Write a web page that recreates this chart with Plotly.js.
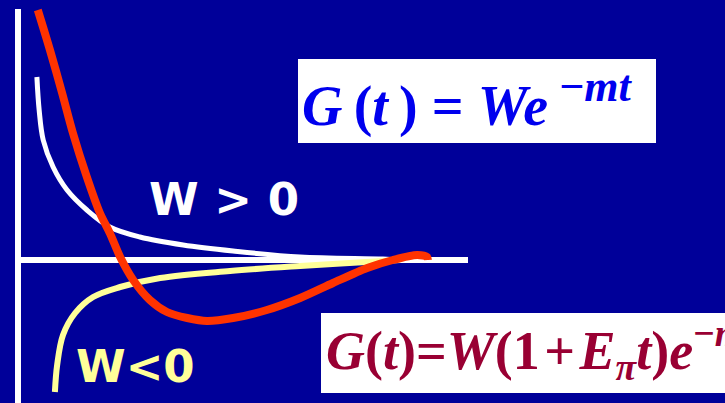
<!DOCTYPE html>
<html>
<head>
<meta charset="utf-8">
<script src="https://cdn.plot.ly/plotly-3.0.1.min.js"></script>
<style>
  html, body { margin: 0; padding: 0; background: #000099; }
  #chart { width: 725px; height: 403px; }
</style>
</head>
<body>
<div id="chart"></div>
<script>
// Propagator G(t) sketches: single exponential for W > 0 and W < 0,
// and the (1 + E_pi t) e^{-mt} form that dips below zero.
const tWhite = [0.42, 0.47, 0.56, 0.78, 1.09, 1.53, 2.04, 2.71, 3.67, 4.78, 6.27, 8.11, 8.49];
const gWhite = [3.66, 3.00, 2.40, 1.86, 1.40, 1.00, 0.66, 0.46, 0.30, 0.18, 0.06, 0.02, 0.00];

const tYellow = [0.82, 0.87, 1.00, 1.27, 1.67, 2.27, 3.16, 4.71, 6.27, 8.11, 8.49];
const gYellow = [-2.64, -2.10, -1.50, -1.06, -0.74, -0.54, -0.36, -0.22, -0.12, -0.02, 0.00];

const tRed = [0.44, 0.71, 0.98, 1.22, 1.53, 1.82, 2.04, 2.27, 2.56, 2.93, 3.31, 3.76, 4.20,
              4.78, 5.53, 6.27, 7.00, 7.76, 8.33, 8.87, 9.09, 9.11];
const gRed = [5.00, 4.20, 3.34, 2.54, 1.66, 0.94, 0.54, 0.06, -0.40, -0.80, -1.04, -1.16, -1.22,
              -1.16, -1.00, -0.76, -0.46, -0.16, 0.00, 0.10, 0.06, 0.00];

// axis extents (t axis and G axis)
const tAxis = [-0.05, 10.0];
const gAxis = [-2.9, 5.02];

const labelPos = 'W > 0';
const labelNeg = 'W<0';
const formulaSimple = '<b><i>G</i>\u2009(<i>t</i>\u2009) = <i>We</i><sup><span style="font-size:44px"> −<i>mt</i></span></sup></b>';
const formulaPion = '<b><i>G</i>(<i>t</i>)=<i>W</i>(1\u200a+\u200a<i>E</i><sub><i>π</i></sub><i>t</i>)<i>e</i><sup>−<i>mt</i></sup></b>';

const traces = [
  { x: tWhite, y: gWhite, mode: 'lines', line: { color: '#ffffff', width: 5, shape: 'spline', smoothing: 1 }, hoverinfo: 'skip' },
  { x: tYellow, y: gYellow, mode: 'lines', line: { color: '#ffff99', width: 6, shape: 'spline', smoothing: 1 }, hoverinfo: 'skip' },
  { x: tRed, y: gRed, mode: 'lines', line: { color: '#ff3300', width: 8, shape: 'spline', smoothing: 0.8 }, hoverinfo: 'skip' }
];

const layout = {
  width: 725, height: 403,
  margin: { l: 0, r: 0, t: 0, b: 0 },
  paper_bgcolor: '#000099',
  plot_bgcolor: '#000099',
  showlegend: false,
  xaxis: { range: [-0.4, 15.711], visible: false, fixedrange: true },
  yaxis: { range: [-2.86, 5.2], visible: false, fixedrange: true },
  shapes: [
    { type: 'line', xref: 'x', yref: 'y', x0: 0, x1: 0, y0: gAxis[0], y1: gAxis[1],
      line: { color: '#ffffff', width: 6 }, layer: 'below' },
    { type: 'line', xref: 'x', yref: 'y', x0: tAxis[0], x1: tAxis[1], y0: 0, y1: 0,
      line: { color: '#ffffff', width: 6 }, layer: 'below' },
    { type: 'rect', xref: 'paper', yref: 'paper', x0: 298 / 725, x1: 656 / 725, y0: 1 - 143 / 403, y1: 1 - 59 / 403,
      fillcolor: '#ffffff', line: { width: 0 } },
    { type: 'rect', xref: 'paper', yref: 'paper', x0: 321 / 725, x1: 1.02, y0: 1 - 393 / 403, y1: 1 - 313 / 403,
      fillcolor: '#ffffff', line: { width: 0 } }
  ],
  annotations: [
    { xref: 'paper', yref: 'paper', x: 224 / 725, y: 1 - 199 / 403, xanchor: 'center', yanchor: 'middle',
      text: '<b>' + labelPos + '</b>', showarrow: false,
      font: { family: 'DejaVu Sans', size: 45, color: '#ffffff' } },
    { xref: 'paper', yref: 'paper', x: 135 / 725, y: 1 - 366 / 403, xanchor: 'center', yanchor: 'middle',
      text: '<b>' + labelNeg + '</b>', showarrow: false,
      font: { family: 'DejaVu Sans', size: 45, color: '#ffff99' } },
    { xref: 'paper', yref: 'paper', x: 300 / 725, y: 1 - 100 / 403, xanchor: 'left', yanchor: 'middle',
      text: formulaSimple, showarrow: false,
      font: { family: 'Liberation Serif', size: 56, color: '#0000ee' } },
    { xref: 'paper', yref: 'paper', x: 324 / 725, y: 1 - 350 / 403, xanchor: 'left', yanchor: 'middle',
      text: formulaPion, showarrow: false,
      font: { family: 'Liberation Serif', size: 54, color: '#990033' } }
  ]
};

Plotly.newPlot('chart', traces, layout, { staticPlot: true, displayModeBar: false });
</script>
</body>
</html>
